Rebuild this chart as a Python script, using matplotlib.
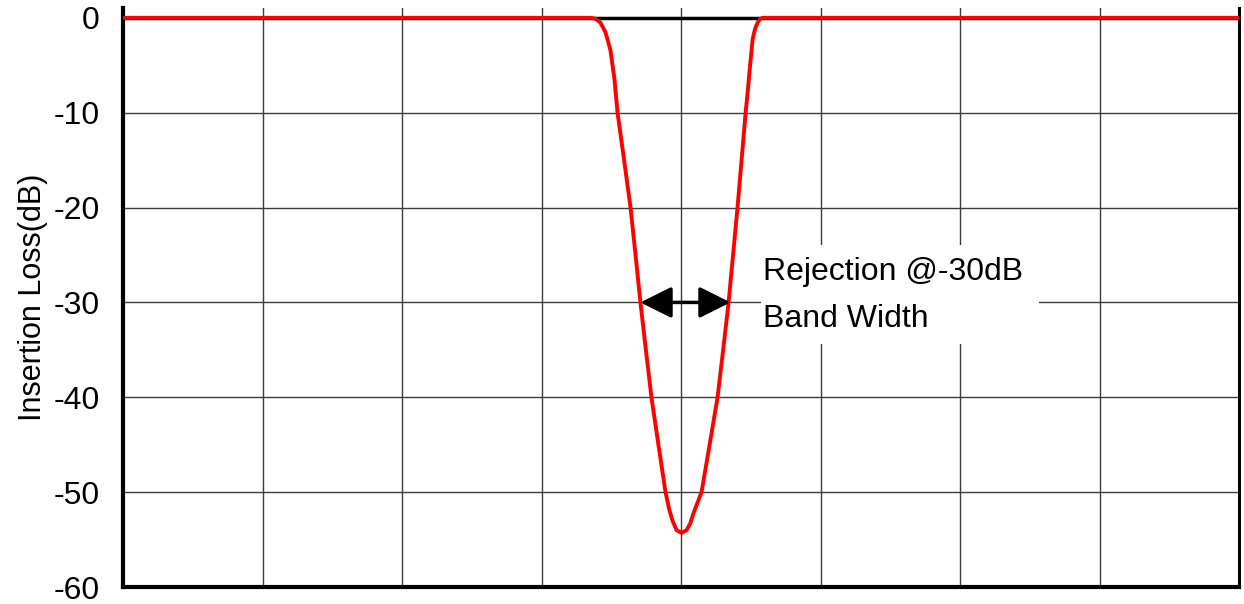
import numpy as np
import matplotlib
matplotlib.use('Agg')
import matplotlib.pyplot as plt
from matplotlib.patches import Rectangle

plt.rcParams['font.family'] = ['Liberation Sans', 'DejaVu Sans']
plt.rcParams['axes.unicode_minus'] = False

# frequency in grid divisions (0..8), insertion loss in dB
freq = [0.0, 1.0, 2.0, 3.0, 3.351, 3.387, 3.422, 3.458, 3.494, 3.523, 3.545,
        3.592, 3.638, 3.674, 3.709, 3.748, 3.788, 3.838, 3.889, 3.915, 3.939,
        3.968, 4.004, 4.040, 4.066, 4.090, 4.147, 4.205, 4.262, 4.302, 4.341,
        4.373, 4.405, 4.434, 4.463, 4.480, 4.492, 4.513, 4.530, 4.549, 4.565,
        4.585, 5.0, 6.0, 7.0, 8.0]
loss = [0.0, 0.0, 0.0, 0.0, 0.0, -0.1, -0.5, -1.5, -3.4, -6.5, -10.0,
        -15.0, -20.0, -25.0, -30.0, -35.0, -40.0, -45.0, -50.0, -51.8, -53.0,
        -54.0, -54.3, -54.0, -53.3, -52.2, -50.0, -45.0, -40.0, -35.0, -30.0,
        -25.0, -20.0, -15.0, -10.0, -7.5, -5.5, -2.3, -1.2, -0.5, -0.15,
        0.0, 0.0, 0.0, 0.0, 0.0]

yticks = [0, -10, -20, -30, -40, -50, -60]
bw_left, bw_right = 3.709, 4.355   # -30 dB crossings
note_lines = ['Rejection @-30dB', 'Band Width']

fig = plt.figure(figsize=(12.44, 6.04), dpi=100)
ax = fig.add_axes([0.0989, 0.0281, 0.8971, 0.9589])

ax.set_xlim(0, 8)
ax.set_ylim(-60, 1.05)
ax.set_xticks(np.arange(0, 9, 1))
ax.set_yticks(yticks)
ax.set_xticklabels([])
ax.tick_params(axis='both', length=0)
ax.tick_params(axis='y', labelsize=23, pad=17)
ax.grid(True, color='#3c3c3c', lw=1.0)
ax.set_axisbelow(True)
ax.axhline(0, color='black', lw=2.5, zorder=2)

for s in ['left', 'bottom']:
    ax.spines[s].set_linewidth(3.0)
ax.spines['right'].set_linewidth(2.2)
ax.spines['top'].set_visible(False)

ax.plot(freq, loss, color='red', lw=2.8, zorder=4)

# white box behind the note
ax.add_patch(Rectangle((4.570, -34.4), 1.995, 10.5, facecolor='white',
                       edgecolor='none', zorder=1.5))
ax.text(4.585, -27.67, note_lines[0], fontsize=23, va='baseline', zorder=5)
ax.text(4.585, -32.6, note_lines[1], fontsize=23, va='baseline', zorder=5)

ax.annotate('', xy=(bw_left, -30), xytext=(bw_right, -30),
            arrowprops=dict(arrowstyle='<|-|>,head_length=0.4,head_width=0.2',
                            color='black', lw=2.5,
                            mutation_scale=48, shrinkA=0, shrinkB=0),
            zorder=5)

ax.set_ylabel('Insertion Loss(dB)', fontsize=22, labelpad=4)

fig.savefig('out.png', dpi=100)
